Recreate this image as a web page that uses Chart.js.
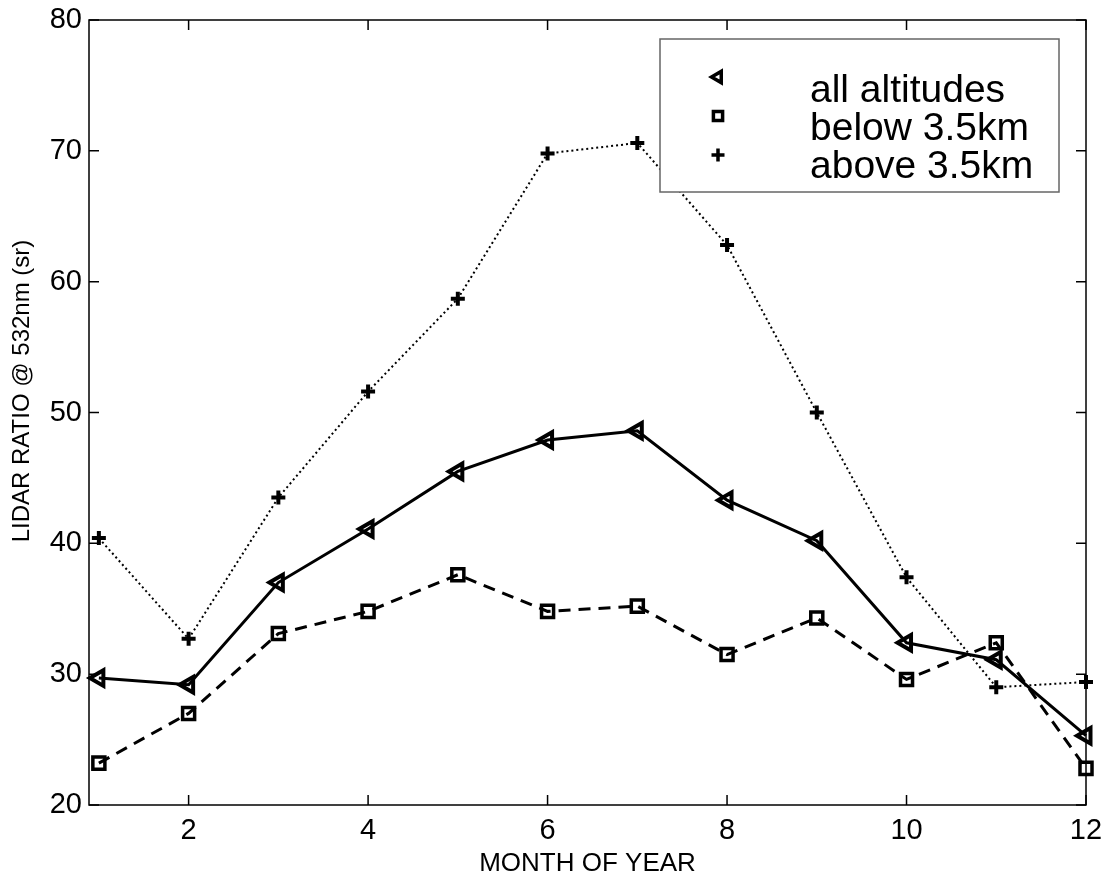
<!DOCTYPE html>
<html>
<head>
<meta charset="utf-8">
<script src="https://cdn.jsdelivr.net/npm/chart.js@4"></script>
<style>
    html, body { margin: 0; padding: 0; background: #fff; overflow: hidden; }
    #wrap { width: 1107px; height: 880px; }
</style>
</head>
<body>
<div id="wrap"><canvas id="chart"></canvas></div>
<script>
const months = [1, 2, 3, 4, 5, 6, 7, 8, 9, 10, 11, 12];
const allAltitudes = [29.7, 29.2, 37.0, 41.1, 45.5, 47.9, 48.6, 43.3, 40.2, 32.4, 31.1, 25.3];
const below35km = [23.2, 27.0, 33.1, 34.8, 37.6, 34.8, 35.2, 31.5, 34.3, 29.6, 32.4, 22.8];
const above35km = [40.4, 32.7, 43.5, 51.6, 58.7, 69.8, 70.6, 62.8, 50.0, 37.4, 29.0, 29.4];

const xTicks = [2, 4, 6, 8, 10, 12];
const yTicks = [20, 30, 40, 50, 60, 70, 80];

const seriesLabels = ["all altitudes", "below 3.5km", "above 3.5km"];
const yTitle = "LIDAR RATIO @ 532nm (sr)";

const FONT = "'Liberation Sans', Arial, sans-serif";

function toPoints(values) {
    return months.map((m, i) => ({ x: m, y: values[i] }));
}

// Box round the plot area plus inward ticks on all four sides (Matlab look)
const frameTicks = {
    id: 'frameTicks',
    afterDraw(chart) {
        const { ctx, chartArea: a, scales } = chart;
        const len = 10;
        ctx.save();
        ctx.strokeStyle = '#000';
        ctx.lineWidth = 1.5;
        ctx.strokeRect(a.left, a.top, a.right - a.left, a.bottom - a.top);
        ctx.beginPath();
        xTicks.forEach(v => {
            const px = scales.x.getPixelForValue(v);
            ctx.moveTo(px, a.bottom); ctx.lineTo(px, a.bottom - len);
            ctx.moveTo(px, a.top); ctx.lineTo(px, a.top + len);
        });
        yTicks.forEach(v => {
            const py = scales.y.getPixelForValue(v);
            ctx.moveTo(a.left, py); ctx.lineTo(a.left + len, py);
            ctx.moveTo(a.right, py); ctx.lineTo(a.right - len, py);
        });
        ctx.stroke();

        // y axis title, sits a little above the middle like the original
        ctx.translate(22, 391);
        ctx.rotate(-Math.PI / 2);
        ctx.fillStyle = '#000';
        ctx.font = `24px ${FONT}`;
        ctx.textAlign = 'center';
        ctx.textBaseline = 'middle';
        ctx.fillText(yTitle, 0, 0);
        ctx.restore();
    }
};

// Legend drawn like the Matlab one: markers only, in a framed box
const boxLegend = {
    id: 'boxLegend',
    afterDraw(chart) {
        const ctx = chart.ctx;
        ctx.save();
        ctx.fillStyle = '#fff';
        ctx.fillRect(660, 39, 399, 153);
        ctx.strokeStyle = '#666';
        ctx.lineWidth = 1.5;
        ctx.strokeRect(660, 39, 399, 153);

        const markerY = [77, 116, 155];
        const textY = [102, 140, 178];
        chart.data.datasets.forEach((ds, i) => {
            ctx.strokeStyle = '#000';
            ctx.fillStyle = 'rgba(0,0,0,0)';
            ctx.lineWidth = 3.5;
            ctx.setLineDash([]);
            Chart.helpers.drawPoint(ctx, {
                pointStyle: ds.pointStyle,
                rotation: ds.pointRotation || 0,
                radius: 6.5,
                borderWidth: 3.5
            }, 718, markerY[i]);
            ctx.fillStyle = '#000';
            ctx.font = `39px ${FONT}`;
            ctx.textBaseline = 'alphabetic';
            ctx.textAlign = 'left';
            ctx.fillText(ds.label, 810, textY[i]);
        });
        ctx.restore();
    }
};

const ctx = document.getElementById('chart');

new Chart(ctx, {
    type: 'line',
    data: {
        datasets: [
            {
                label: seriesLabels[0],
                data: toPoints(allAltitudes),
                borderColor: '#000',
                borderWidth: 3,
                pointStyle: 'triangle',
                pointRotation: -90,
                pointRadius: 9,
                pointBorderWidth: 4,
                pointBorderColor: '#000',
                pointBackgroundColor: 'rgba(0,0,0,0)',
                clip: false
            },
            {
                label: seriesLabels[1],
                data: toPoints(below35km),
                borderColor: '#000',
                borderWidth: 3,
                borderDash: [12, 8],
                pointStyle: 'rect',
                pointRadius: 8.5,
                pointBorderWidth: 3.5,
                pointBorderColor: '#000',
                pointBackgroundColor: 'rgba(0,0,0,0)',
                clip: false
            },
            {
                label: seriesLabels[2],
                data: toPoints(above35km),
                borderColor: '#000',
                borderWidth: 2,
                borderDash: [2, 3],
                pointStyle: 'cross',
                pointRadius: 7,
                pointBorderWidth: 4,
                pointBorderColor: '#000',
                clip: false
            }
        ]
    },
    plugins: [frameTicks, boxLegend],
    options: {
        responsive: true,
        maintainAspectRatio: false,
        animation: false,
        layout: { padding: { top: 20, right: 21, left: 0, bottom: 0 } },
        plugins: {
            legend: { display: false },
            tooltip: { enabled: false }
        },
        elements: { line: { tension: 0 } },
        scales: {
            x: {
                type: 'linear',
                min: 0.89,
                max: 12,
                afterBuildTicks: scale => { scale.ticks = xTicks.map(v => ({ value: v })); },
                afterFit: scale => {
                    scale.height = 75;
                    scale.paddingLeft = 0;
                    scale.paddingRight = 0;
                },
                grid: { display: false, drawTicks: false },
                border: { display: false },
                ticks: {
                    color: '#000',
                    padding: 9,
                    font: { family: FONT, size: 29 },
                    maxRotation: 0,
                    autoSkip: false
                },
                title: {
                    display: true,
                    text: 'MONTH OF YEAR',
                    color: '#000',
                    font: { family: FONT, size: 26 },
                    padding: { top: 0, bottom: 1 }
                }
            },
            y: {
                min: 20,
                max: 80,
                afterBuildTicks: scale => { scale.ticks = yTicks.map(v => ({ value: v })); },
                afterFit: scale => {
                    scale.width = 89;
                    scale.paddingTop = 0;
                    scale.paddingBottom = 0;
                },
                grid: { display: false, drawTicks: false },
                border: { display: false },
                ticks: {
                    color: '#000',
                    padding: 7,
                    font: { family: FONT, size: 29 }
                },
                title: { display: false }
            }
        }
    }
});
</script>
</body>
</html>
